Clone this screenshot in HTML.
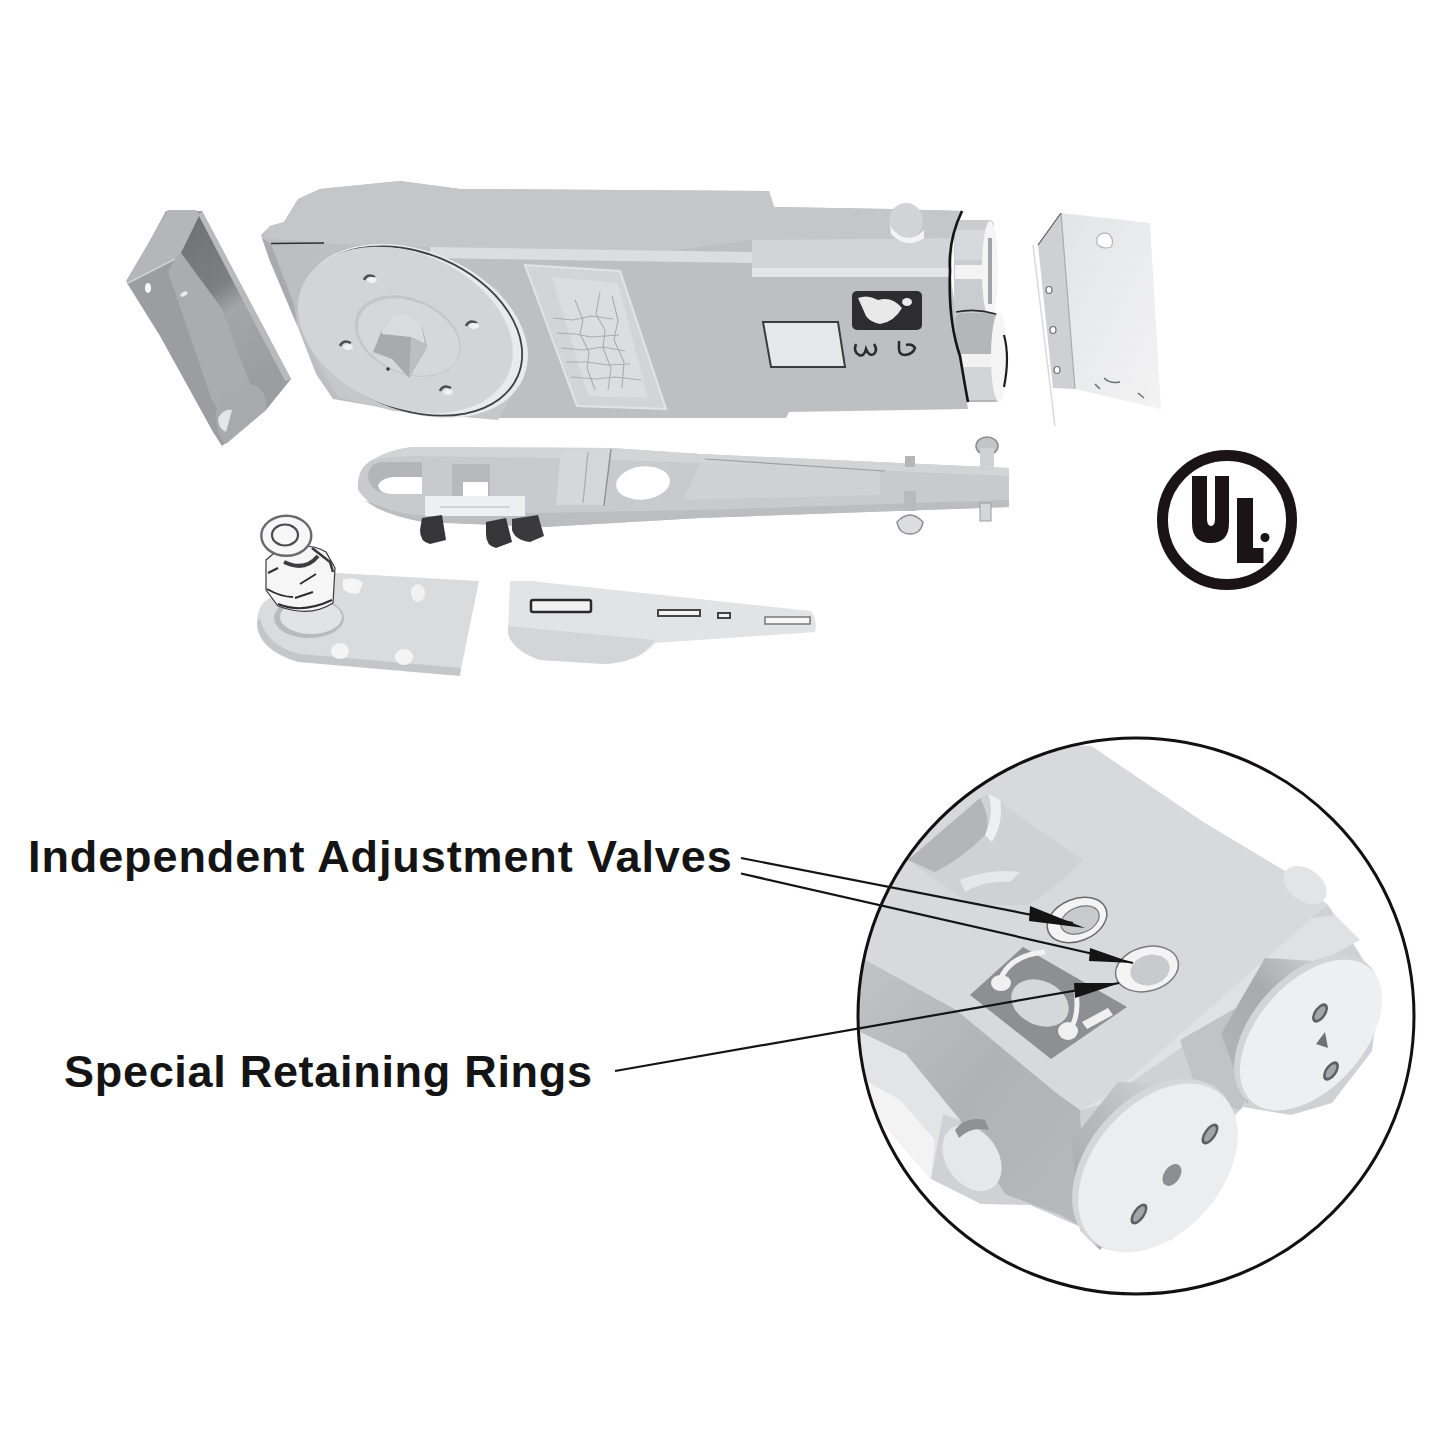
<!DOCTYPE html>
<html><head><meta charset="utf-8">
<style>
html,body{margin:0;padding:0;background:#fff;width:1445px;height:1445px;overflow:hidden}
svg{position:absolute;left:0;top:0}
.t{position:absolute;font-family:"Liberation Sans",sans-serif;font-weight:bold;font-size:45px;color:#141414;white-space:nowrap;letter-spacing:0.9px;line-height:1}
</style></head><body>
<svg width="1445" height="1445" viewBox="0 0 1445 1445">
<defs>
  <clipPath id="circ"><circle cx="1136" cy="1016" r="278"/></clipPath>
</defs>
<!-- left bracket -->
<defs>
  <linearGradient id="gChan" x1="0" y1="0" x2="0.4" y2="1">
    <stop offset="0" stop-color="#6f7074"/><stop offset="0.45" stop-color="#7e7f83"/><stop offset="0.6" stop-color="#a4a5a9"/><stop offset="1" stop-color="#9c9da1"/>
  </linearGradient>
</defs>
<g id="lbracket">
  <polygon points="166,211 202,211 291,379 266,410 222,446 213,432 160,336 127,283" fill="#9c9da1"/>
  <polygon points="168,210 196,210 200,215 181,253 175,259 128,283 126,281" fill="#b5b6b9"/>
  <polygon points="202,211 291,379 285,381 197,217" fill="#b9babd"/>
  <polygon points="199,216 285,381 266,404 250,384 222,309 181,253" fill="url(#gChan)"/>
  <polygon points="175,259 181,253 222,309 250,384 264,408 229,425 212,400 168,272" fill="#abacb0"/>
  <line x1="128" y1="283" x2="175" y2="259" stroke="#d0d1d4" stroke-width="1.5"/>
  <path d="M216,412 q10,-30 34,-28 q18,4 16,26 l-40,34 q-10,-8 -10,-32 z" fill="#a9aaae"/>
  <path d="M218,418 q6,-10 14,-8 l-6,22 q-8,-4 -8,-14 z" fill="#e4e5e7"/>
  <ellipse cx="148" cy="288" rx="3" ry="5" fill="#fff"/>
  <ellipse cx="184" cy="294" rx="4" ry="2" fill="#e9eaeb" transform="rotate(-30 184 294)"/>
</g>

<!-- main body -->
<g id="body">
  <polygon points="261,235 270,226 284,222 298,199 320,189 400,181 460,189 769,191 774,207 889,209 963,211 953,238 951,277 963,374 968,409 789,412 786,418 500,418 432,416 333,399 316,374 297,325 270,261" fill="#bebfc2"/>
  <!-- top face strip -->
  <polygon points="270,226 284,222 298,199 320,189 400,181 460,189 769,191 774,207 889,209 963,211 953,238 752,240 650,253 480,249 340,244 262,238" fill="#c5c6c9"/>
  <!-- left chamfer face -->
  <polygon points="262,238 271,244 294,304 297,325 270,261" fill="#a9aaad"/>
  <polygon points="271,244 324,243 294,304" fill="#bdbec1"/>
  <line x1="271" y1="243.5" x2="324" y2="243" stroke="#2f2f31" stroke-width="1.6"/>
  <!-- side panel right of disc -->
  <polygon points="430,247 752,252 752,263 430,258" fill="#dcdde0"/>
  <polygon points="525,265 620,271 666,409 577,406" fill="#d3d4d7" stroke="#e2e3e5" stroke-width="2"/>
  <polygon points="552,277 618,283 648,398 588,396" fill="#dcdde0"/>
  <g fill="none" stroke="#a4a5a8" stroke-width="1.1" opacity="0.85">
    <path d="M553,318 l20,2 l18,-4 l22,3 M557,333 l18,1 l16,3 l28,-2 M561,348 l22,2 l20,-3 l22,4 M566,362 l20,0 l22,3 l22,-1 M571,377 l24,2 l20,-2 l26,3"/>
    <path d="M575,300 l8,20 l-3,14 l9,18 l-2,16 l8,22 M600,292 l-4,22 l9,16 l-2,18 l8,20 l-3,22 M612,296 l6,24 l-4,20 l10,22 l-2,26"/>
  </g>
  <!-- ridge -->
  <polygon points="752,240 953,238 951,277 752,277" fill="#d3d4d6"/>
  <polygon points="752,268 951,268 951,277 752,277" fill="#e3e4e6"/>
  <!-- disc -->
  <polygon points="297,323 312,352 338,397 394,411 498,420 520,380 500,290 420,250 340,262" fill="#c6c7ca"/>
  <ellipse cx="414" cy="331" rx="119" ry="80" fill="#e9eaec" transform="rotate(23 414 331)"/>
  <ellipse cx="412" cy="331" rx="115" ry="78" fill="none" stroke="#3f4043" stroke-width="1.8" transform="rotate(23 412 331)"/>
  <ellipse cx="405.4" cy="330" rx="112" ry="77" fill="#d3d4d7" transform="rotate(23 405.4 330)"/>
  <ellipse cx="407.6" cy="336" rx="55" ry="37.6" fill="#c4c5c8" transform="rotate(22.5 407.6 336)"/>
  <ellipse cx="408.6" cy="337" rx="53" ry="35.6" fill="#d6d7da" transform="rotate(22.5 408.6 337)"/>
  <polygon points="373,352 382,330 394,313 408,314 421,323 427,347 409,378 392,359" fill="#a9aaad"/>
  <polygon points="382,330 394,313 408,314 421,323 425,344 411,337 382,334" fill="#dadbdd"/>
  <polygon points="411,337 425,344 427,347 409,378" fill="#bdbec1"/>
  <g fill="none" stroke="#4d4e51" stroke-width="2.4">
    <path d="M364,280 q3,-7 11,-3"/><path d="M466,326 q3,-7 11,-3"/><path d="M340,346 q3,-7 11,-3"/><path d="M440,391 q3,-7 11,-3"/>
  </g>
  <g fill="#f1f1f2"><ellipse cx="372" cy="280" rx="5" ry="3"/><ellipse cx="474" cy="326" rx="5" ry="3"/><ellipse cx="348" cy="347" rx="5" ry="3"/><ellipse cx="448" cy="392" rx="5" ry="3"/></g>
  <circle cx="388" cy="369" r="1.8" fill="#333"/>
  <!-- window -->
  <polygon points="763,322 838,322 845,367 771,367" fill="#e6e7e9" stroke="#3c3c3e" stroke-width="2"/>
  <!-- label -->
  <rect x="852" y="291" width="70" height="39" rx="5" fill="#2d2d2f"/>
  <path d="M858,298 q10,-4 20,2 q14,-4 24,8 q-8,14 -22,16 q-10,-2 -14,-8 z" fill="#e9e9ea"/>
  <ellipse cx="907" cy="302" rx="5" ry="4" fill="#e9e9ea"/>
  <g fill="none" stroke="#2a2a2c" stroke-width="2.5">
    <path d="M856,344 q-3,8 3,11 q5,2 7,-6 q3,8 8,5 q4,-4 0,-10"/>
    <path d="M899,341 v8 q0,6 6,6 q8,-1 10,-7 q-3,-5 -9,-3"/>
  </g>
  <!-- nut on top -->
  <ellipse cx="906" cy="221" rx="17" ry="18" fill="#d2d3d6"/>
  <path d="M890,226 q16,22 34,4 l0,8 q-17,12 -33,-4 z" fill="#f4f4f5"/>
  <!-- end cylinders -->
  <defs><clipPath id="cylclip"><path d="M962,205 Q948,240 950,271 Q948,321 960,356 Q965,386 968,402 L968,415 L1020,415 L1020,205 Z"/></clipPath></defs>
  <g clip-path="url(#cylclip)">
  <rect x="954" y="220" width="40" height="99" rx="5" fill="#cbccd0"/>
  <rect x="955" y="230" width="36" height="30" fill="#d8d9dc"/>
  <rect x="955" y="265" width="33" height="14" fill="#f3f3f4"/>
  <ellipse cx="990" cy="270" rx="8" ry="49" fill="#f5f5f6"/>
  <rect x="988" y="238" width="4" height="66" fill="#a3a4a7"/>
  <rect x="956" y="313" width="44" height="89" rx="5" fill="#b5b6b9"/>
  <rect x="958" y="354" width="36" height="13" fill="#f2f2f3"/>
  <rect x="958" y="367" width="38" height="33" fill="#d3d4d7"/>
  <ellipse cx="999" cy="357" rx="8" ry="45" fill="#f5f5f6"/>
  <path d="M1004,335 q6,22 0,52" stroke="#1e1e20" stroke-width="2.2" fill="none"/>
  <path d="M956,312 q20,-4 40,2" fill="none" stroke="#2a2a2c" stroke-width="1.6"/>
  </g>
  <path d="M962,211 Q948,240 950,271 Q948,321 960,356 Q965,386 968,402" fill="none" stroke="#141416" stroke-width="2.6"/>
</g>

<!-- right bracket -->
<defs>
  <linearGradient id="gRB" x1="0" y1="0" x2="1" y2="1">
    <stop offset="0" stop-color="#e3e4e6"/><stop offset="1" stop-color="#f3f3f4"/>
  </linearGradient>
</defs>
<g id="rbracket">
  <line x1="1033" y1="245" x2="1055" y2="426" stroke="#d9dadc" stroke-width="1.5"/>
  <polygon points="1061,213 1150,223 1161,409 1075,389" fill="url(#gRB)"/>
  <polygon points="1061,213 1075,389 1053,388 1038,245" fill="#cfd0d3"/>
  <line x1="1061" y1="213" x2="1075" y2="389" stroke="#a9aaad" stroke-width="1.2"/>
  <line x1="1061" y1="213" x2="1038" y2="245" stroke="#555" stroke-width="1.2"/>
  <path d="M1097,238 q4,-7 12,-4 q6,6 2,13 q-8,3 -14,-3 z" fill="#fff" stroke="#b5b6b9" stroke-width="1.2"/>
  <ellipse cx="1049" cy="290" rx="3" ry="3.5" fill="#fff" stroke="#6b6c6f" stroke-width="1.2"/>
  <ellipse cx="1053" cy="330" rx="3" ry="3.5" fill="#fff" stroke="#6b6c6f" stroke-width="1.2"/>
  <ellipse cx="1057" cy="370" rx="3" ry="3.5" fill="#fff" stroke="#6b6c6f" stroke-width="1.2"/>
  <path d="M1104,378 q6,6 16,4 M1095,384 l5,5 M1138,393 l6,5" stroke="#6f7073" stroke-width="1.6" fill="none"/>
</g>

<!-- arm -->
<g id="arm">
  <path d="M358,490 Q356,466 376,458 Q392,450 412,447 L611,448 L700,454 L1009,468 L1009,507 L700,518 L544,527 L423,522 Q372,512 358,490 Z" fill="#c9cacd"/>
  <path d="M412,447 L611,448 L700,454 L1009,468 L1009,476 L700,463 L560,458 L412,456 Q385,456 370,462 Q385,450 412,447 Z" fill="#d3d4d6"/>
  <path d="M365,500 Q400,516 423,515 L700,510 L1009,500 L1009,507 L700,518 L544,527 L423,522 Q380,514 365,500 Z" fill="#bcbdc0"/>
  <polygon points="561,450 611,449 606,505 556,505" fill="#d6d7d9"/>
  <line x1="611" y1="449" x2="604" y2="506" stroke="#8f9093" stroke-width="1.5"/>
  <line x1="588" y1="452" x2="583" y2="503" stroke="#a9aaad" stroke-width="1.2"/>
  <polygon points="700,463 880,470 880,495 683,500" fill="#d0d1d3"/>
  <line x1="705" y1="459" x2="885" y2="471" stroke="#9d9ea1" stroke-width="1.2"/>
  <path d="M368,478 Q368,462 385,462 L422,462 L422,494 L392,494 Q372,494 368,478 Z" fill="#b4b5b8"/>
  <path d="M378,486 Q380,478 395,477 L422,477 L422,494 L392,494 Q380,494 378,486 Z" fill="#fff"/>
  <polygon points="452,464 490,464 490,496 452,496" fill="#b8b9bc"/>
  <polygon points="463,482 488,482 488,496 463,496" fill="#fff"/>
  <ellipse cx="643" cy="483" rx="27" ry="16.5" fill="#fff" transform="rotate(-6 643 483)"/>
  <rect x="425" y="496" width="100" height="20" fill="#eeeff0"/>
  <line x1="440" y1="507" x2="510" y2="507" stroke="#b9babd" stroke-width="1.2"/>
  <path d="M422,518 L442,515 L446,540 L430,544 Q420,542 420,530 Z" fill="#363638"/>
  <path d="M486,522 L506,518 L512,542 L496,548 Q486,546 486,534 Z" fill="#363638"/>
  <path d="M512,519 L538,515 L544,536 L530,542 Q515,540 512,530 Z" fill="#3a3a3c"/>
  <ellipse cx="987" cy="446" rx="11" ry="9" fill="#c3c4c7" stroke="#8a8b8e" stroke-width="1.5"/>
  <rect x="980" y="448" width="14" height="22" fill="#d0d1d3"/>
  <rect x="980" y="503" width="11" height="18" fill="#d5d6d8" stroke="#9a9b9e" stroke-width="1"/>
  <rect x="904" y="491" width="12" height="20" fill="#b9babd"/>
  <path d="M897,522 q13,-14 26,0 q-2,12 -13,12 q-11,0 -13,-12 z" fill="#dcdde0" stroke="#8e8f92" stroke-width="1.5"/>
  <rect x="905" y="456" width="10" height="11" fill="#b5b6b9"/>
</g>

<!-- pivot plate -->
<g id="pivot">
  <path d="M336,573 L479,581 L460,674 L298,660 Q262,652 257,628 Q256,604 270,598 Z" fill="#dadbdd"/>
  <path d="M257,622 Q258,650 298,662 L460,676 L461,668 L300,654 Q266,646 260,618 Z" fill="#c5c6c9"/>
  <path d="M343,580 q12,-4 20,3 l-4,10 q-10,2 -16,-4 z" fill="#f6f6f7"/>
  <ellipse cx="418" cy="593" rx="7" ry="9" fill="#f2f2f3"/>
  <ellipse cx="340" cy="651" rx="9" ry="8" fill="#f4f4f5"/>
  <ellipse cx="404" cy="657" rx="9" ry="8" fill="#f4f4f5"/>
  <ellipse cx="309" cy="618" rx="35" ry="20" fill="#b9babd"/>
  <ellipse cx="311" cy="617" rx="31" ry="17" fill="#e2e3e5"/>
  <path d="M266,560 L280,548 Q310,542 326,552 L335,568 L333,603 Q310,618 278,606 L266,590 Z" fill="#f6f6f7" stroke="#3a3a3d" stroke-width="1.2"/>
  <path d="M284,562 Q305,572 318,556" fill="none" stroke="#3d3d40" stroke-width="4"/>
  <path d="M268,573 l10,-5 M267,589 q14,8 26,8 M295,598 l18,-6 M300,584 l16,-10 M278,604 q24,10 54,-4" fill="none" stroke="#2e2e31" stroke-width="2"/>
  <path d="M312,548 l18,14 l3,10" fill="none" stroke="#38383b" stroke-width="2.5"/>
  <ellipse cx="286.3" cy="535.8" rx="25" ry="20" fill="#f7f7f8" stroke="#6a6b6e" stroke-width="2.4"/>
  <ellipse cx="285" cy="535" rx="13" ry="10.5" fill="none" stroke="#4b4c4f" stroke-width="2.2"/>
</g>

<!-- tapered piece -->
<g id="taper">
  <path d="M510,581 L531,581 L811,611 Q818,622 815,632 L655,643 Q640,662 605,664 L540,660 Q512,650 508,633 Z" fill="#e2e3e5"/>
  <path d="M508,626 L655,640 Q640,662 605,664 L540,660 Q512,650 508,633 Z" fill="#d4d5d8"/>
  <rect x="531" y="600" width="60" height="12" rx="2" fill="#f2f2f3" stroke="#2b2b2d" stroke-width="2.5"/>
  <rect x="658" y="610" width="42" height="6" fill="#f2f2f3" stroke="#444" stroke-width="2"/>
  <rect x="718" y="613" width="12" height="5" fill="#f2f2f3" stroke="#444" stroke-width="2"/>
  <rect x="765" y="617" width="45" height="7" fill="#f6f6f7" stroke="#777" stroke-width="1.5"/>
</g>
<!-- UL logo -->
<g id="ul">
  <circle cx="1227" cy="520" r="64.5" fill="none" stroke="#1a1416" stroke-width="11"/>
  <path d="M1192,476 h15 v43 q0,7 4,7 q4,0 4,-7 v-43 h14 v47 q0,20 -18.5,20 q-18.5,0 -18.5,-20 z" fill="#1a1416"/>
  <path d="M1237,498 h16 v50 h10.5 v15 h-26.5 z" fill="#1a1416"/>
  <circle cx="1265" cy="537.5" r="4.5" fill="#1a1416"/>
</g>

<!-- zoom circle -->
<defs>
  <linearGradient id="gRecess" x1="0" y1="0" x2="1" y2="1">
    <stop offset="0" stop-color="#a7a8ac"/><stop offset="0.55" stop-color="#b9babd"/><stop offset="1" stop-color="#e2e3e5"/>
  </linearGradient>
  <linearGradient id="gCylF" x1="1" y1="0" x2="0" y2="1">
    <stop offset="0" stop-color="#dedfe1"/><stop offset="0.5" stop-color="#b9babd"/><stop offset="1" stop-color="#a2a3a7"/>
  </linearGradient>
  <linearGradient id="gCylB" x1="1" y1="0" x2="0" y2="0.8">
    <stop offset="0" stop-color="#e0e1e3"/><stop offset="0.55" stop-color="#a9aaae"/><stop offset="1" stop-color="#b4b5b8"/>
  </linearGradient>
</defs>
<g clip-path="url(#circ)">
  <rect x="850" y="730" width="580" height="580" fill="#fff"/>
  <!-- body base silhouette -->
  <polygon points="850,740 1091,746 1203,822 1283,870 1328,905 1348,935 1380,987 1372,1051 1332,1103 1291,1115 1243,1107 1235,1115 1219,1192 1171,1240 1115,1244 1085,1229 1030,1205 981,1204 931,1179 856,1092 850,1080" fill="#d0d1d4"/>
  <!-- top face -->
  <polygon points="850,740 1091,746 1203,822 1283,870 1328,905 1312,918 1100,1105 1080,1110 1055,1092 956,1010 856,955 850,952" fill="#d8d9dc"/>
  <!-- side face: mid gray band -->
  <defs><linearGradient id="gBand" x1="0" y1="0" x2="1" y2="1">
    <stop offset="0" stop-color="#c3c4c7"/><stop offset="0.5" stop-color="#b1b2b5"/><stop offset="1" stop-color="#b8b9bc"/>
  </linearGradient></defs>
  <polygon points="850,952 856,955 956,1010 1055,1092 1080,1110 1085,1229 1060,1215 1005,1194 960,1120 906,1054 856,1030 850,1028" fill="url(#gBand)"/>
  <!-- light band -->
  <polygon points="850,1028 856,1030 906,1054 960,1120 943,1114 931,1179 856,1092 850,1080" fill="#e3e4e6"/>
  <polygon points="856,1075 900,1100 935,1140 931,1179 856,1092" fill="#f3f3f4"/>
  <!-- bump -->
  <ellipse cx="972" cy="1158" rx="26" ry="36" fill="#e6e7e9" transform="rotate(-35 972 1158)"/>
  <path d="M955,1130 q10,-14 30,-10 l4,10 q-18,-4 -30,8 z" fill="#8f9094"/>
  <!-- recess -->
  <polygon points="908,860 980,798 988,794 1083,860 1063,880 1030,905 971,905" fill="#d0d1d4"/>
  <path d="M908,860 L980,798 Q992,820 985,835 Q960,860 935,872 Z" fill="#b4b5b8"/>
  <path d="M985,835 Q995,812 988,794 L1000,800 Q1004,822 992,842 Z" fill="#eeeff0"/>
  <path d="M960,880 q30,-12 60,-8 l-10,10 q-25,-2 -45,10 z" fill="#e6e7e9"/>
  <!-- window -->
  <polygon points="970,995 1023,947 1127,1007 1051,1059" fill="#8e8f93"/>
  <ellipse cx="1040" cy="1003" rx="30" ry="22" fill="#d6d7d9" transform="rotate(25 1040 1003)"/>
  <path d="M1000,980 q10,-25 45,-28" fill="none" stroke="#f2f2f3" stroke-width="5"/>
  <path d="M1068,1030 q12,-10 8,-40" fill="none" stroke="#f2f2f3" stroke-width="5"/>
  <ellipse cx="1001" cy="983" rx="10" ry="8" fill="#f0f0f1"/>
  <ellipse cx="1068" cy="1031" rx="10" ry="9" fill="#f0f0f1"/>
  <polygon points="1082,1022 1108,1008 1113,1015 1087,1029" fill="#f0f0f1"/>
  <!-- valve holes -->
  <ellipse cx="1077" cy="920" rx="31" ry="21" fill="#f4f4f5" stroke="#6a6b6e" stroke-width="1.5" transform="rotate(-22 1077 920)"/>
  <ellipse cx="1080" cy="920" rx="20" ry="13" fill="#c9cacd" stroke="#77787b" stroke-width="1.2" transform="rotate(-22 1080 920)"/>
  <ellipse cx="1147" cy="969" rx="32" ry="22" fill="#f4f4f5" stroke="#7a7b7e" stroke-width="1.5" transform="rotate(-15 1147 969)"/>
  <ellipse cx="1150" cy="970" rx="20" ry="15" fill="#c9cacd" transform="rotate(-15 1150 970)"/>
  <!-- bump on top right -->
  <ellipse cx="1305" cy="885" rx="24" ry="16" fill="#e3e4e6" transform="rotate(35 1305 885)"/>
  <!-- end plate band -->
  <polygon points="1312,918 1335,915 1360,940 1250,1000 1120,1090 1080,1110 1100,1105" fill="#e0e1e3"/>
  <polygon points="1180,1040 1250,1000 1300,1000 1240,1110 1200,1100" fill="#c2c3c6"/>
  <!-- back cylinder -->
  <polygon points="1221,1034 1265,958 1363,964 1300,1000 1247,1104" fill="url(#gCylB)"/>
  <ellipse cx="1307" cy="1032" rx="55" ry="91" fill="#d3d4d7" transform="rotate(41.5 1307 1032)"/>
  <ellipse cx="1311" cy="1035" rx="53" ry="89" fill="#eeeff0" transform="rotate(41.5 1311 1035)"/>
  <ellipse cx="1320" cy="1013" rx="6" ry="11" fill="#5f6063" transform="rotate(35 1320 1013)"/>
  <ellipse cx="1320" cy="1013" rx="3.5" ry="8" fill="#a4a5a8" transform="rotate(35 1320 1013)"/>
  <polygon points="1316,1044 1325,1032 1328,1048" fill="#707174"/>
  <ellipse cx="1331" cy="1071" rx="6" ry="11" fill="#5f6063" transform="rotate(35 1331 1071)"/>
  <ellipse cx="1331" cy="1071" rx="3.5" ry="8" fill="#a4a5a8" transform="rotate(35 1331 1071)"/>
  <!-- front cylinder -->
  <polygon points="1072,1140 1118,1082 1215,1086 1100,1250 1080,1230" fill="url(#gCylF)"/>
  <ellipse cx="1154" cy="1165" rx="66" ry="99" fill="#d5d6d8" transform="rotate(41 1154 1165)"/>
  <ellipse cx="1158" cy="1168" rx="64" ry="97" fill="#ecedef" transform="rotate(41 1158 1168)"/>
  <ellipse cx="1210" cy="1134" rx="6" ry="12" fill="#5f6063" transform="rotate(35 1210 1134)"/>
  <ellipse cx="1210" cy="1134" rx="3.5" ry="9" fill="#a4a5a8" transform="rotate(35 1210 1134)"/>
  <ellipse cx="1172" cy="1175" rx="8" ry="12" fill="#8d8e91" transform="rotate(35 1172 1175)"/>
  <ellipse cx="1139" cy="1214" rx="6" ry="12" fill="#5f6063" transform="rotate(35 1139 1214)"/>
  <ellipse cx="1139" cy="1214" rx="3.5" ry="9" fill="#a4a5a8" transform="rotate(35 1139 1214)"/>
</g>
<circle cx="1136" cy="1016" r="278" fill="none" stroke="#141012" stroke-width="3"/>

<!-- leader lines -->
<g stroke="#141414" stroke-width="2.2" fill="none">
  <line x1="741" y1="858" x2="1073" y2="923"/>
  <line x1="741" y1="873.5" x2="1133" y2="963"/>
  <line x1="615" y1="1071" x2="1119" y2="983"/>
</g>
<g fill="#141414">
  <polygon points="1030,906 1029,921 1085,928"/>
  <polygon points="1090,948 1089,961 1133,963"/>
  <polygon points="1074,983 1075,998 1120,983"/>
</g>

</svg>
<div class="t" style="left:28px;top:834px">Independent Adjustment Valves</div>
<div class="t" style="left:64px;top:1049px;letter-spacing:0.7px">Special Retaining Rings</div>
</body></html>
